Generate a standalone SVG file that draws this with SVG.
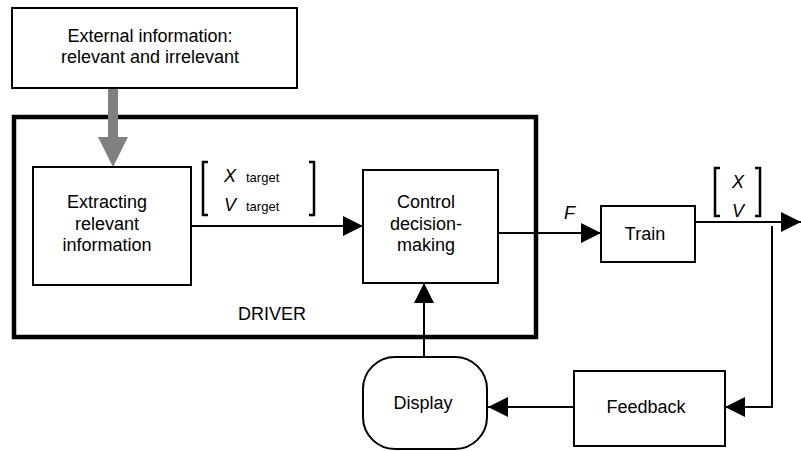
<svg xmlns="http://www.w3.org/2000/svg" width="801" height="451" viewBox="0 0 801 451">
<defs>
<style>
.box{fill:#fff;stroke:#000;stroke-width:2}
.t{font-family:"Liberation Sans",Arial,sans-serif;font-size:18px;fill:#000;text-anchor:middle}
.i{font-family:"Liberation Sans",Arial,sans-serif;font-size:18px;font-style:italic;fill:#000}
.s{font-family:"Liberation Sans",Arial,sans-serif;font-size:13px;fill:#000}
.ln{fill:none;stroke:#000;stroke-width:2}
.br{fill:none;stroke:#000;stroke-width:2.5}
</style>
<marker id="ah" viewBox="0 0 20 20" refX="20" refY="10" markerWidth="20" markerHeight="20" markerUnits="userSpaceOnUse" orient="auto">
<path d="M0,0 L20,10 L0,20 Z" fill="#000"/>
</marker>
</defs>
<rect width="801" height="451" fill="#fff"/>
<g id="driver">
<rect x="14" y="117" width="522" height="220" fill="none" stroke="#000" stroke-width="4.5"/>
<text class="t" x="272" y="320">DRIVER</text>
</g>
<g id="connectors">
<path d="M108,88 L118,88 L118,137 L128,137 L113,167 L98,137 L108,137 Z" fill="#808080"/>
<line class="ln" x1="191" y1="226" x2="363" y2="226" marker-end="url(#ah)"/>
<line class="ln" x1="498" y1="233" x2="601" y2="233" marker-end="url(#ah)"/>
<line class="ln" x1="695" y1="222" x2="801" y2="222" marker-end="url(#ah)"/>
<polyline class="ln" points="772,226 772,407 725,407" marker-end="url(#ah)"/>
<line class="ln" x1="574" y1="407" x2="488" y2="407" marker-end="url(#ah)"/>
<line class="ln" x1="424" y1="357" x2="424" y2="283" marker-end="url(#ah)"/>
<path class="br" d="M208,162 L203,162 L203,215 L208,215"/>
<path class="br" d="M309,162 L314,162 L314,215 L309,215"/>
<text class="i" x="224" y="182">X</text><text class="s" x="246" y="182">target</text>
<text class="i" x="224" y="211">V</text><text class="s" x="246" y="211">target</text>
<text class="i" x="564" y="219">F</text>
<path class="br" d="M720,168 L715,168 L715,216 L720,216"/>
<path class="br" d="M755,168 L760,168 L760,216 L755,216"/>
<text class="i" x="732" y="188">X</text>
<text class="i" x="732" y="217">V</text>
</g>
<g id="external">
<rect class="box" x="12" y="8" width="285" height="80"/>
<text class="t" x="150" y="42">External information:</text>
<text class="t" x="150" y="63">relevant and irrelevant</text>
</g>
<g id="extracting">
<rect class="box" x="33" y="167" width="158" height="118"/>
<text class="t" x="107" y="208">Extracting</text>
<text class="t" x="107" y="230">relevant</text>
<text class="t" x="107" y="251">information</text>
</g>
<g id="control">
<rect class="box" x="363" y="170" width="135" height="113"/>
<text class="t" x="426" y="208">Control</text>
<text class="t" x="426" y="230">decision-</text>
<text class="t" x="426" y="251">making</text>
</g>
<g id="train">
<rect class="box" x="601" y="206" width="94" height="56"/>
<text class="t" x="645" y="240">Train</text>
</g>
<g id="feedback">
<rect class="box" x="574" y="371" width="151" height="75"/>
<text class="t" x="646" y="413">Feedback</text>
</g>
<g id="display">
<rect class="box" x="363" y="357" width="124" height="92" rx="32" ry="32"/>
<text class="t" x="423" y="409">Display</text>
</g>
</svg>
